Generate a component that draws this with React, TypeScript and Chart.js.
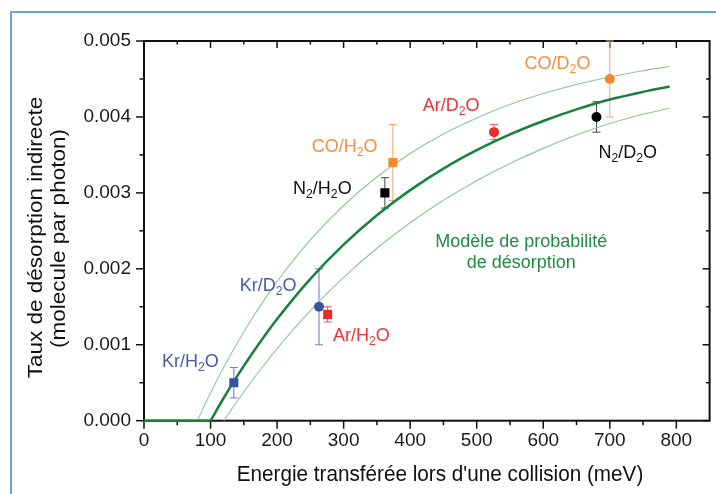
import React, { useEffect, useRef } from 'react';
import { Chart, registerables } from 'chart.js';

Chart.register(...registerables);

const FONT = '"Liberation Sans", Arial, sans-serif';

// Axis ticks
const xTickValues = [0, 100, 200, 300, 400, 500, 600, 700, 800];
const xMinorValues = [50, 150, 250, 350, 450, 550, 650, 750];
const yTickValues = [0, 0.001, 0.002, 0.003, 0.004, 0.005];
const yMinorValues = [0.0005, 0.0015, 0.0025, 0.0035, 0.0045];

// Measurements
const sampleNames = ['Kr/H₂O', 'Kr/D₂O', 'Ar/H₂O', 'N₂/H₂O', 'CO/H₂O', 'Ar/D₂O', 'N₂/D₂O', 'CO/D₂O'];
const sampleEnergy = [135, 263, 276, 362, 374, 526, 680, 700];
const sampleRate = [0.0005, 0.0015, 0.0014, 0.003, 0.0034, 0.0038, 0.004, 0.0045];
const sampleErrLow = [0.0003, 0.001, 0.0013, 0.0028, 0.0029, 0.0037, 0.0038, 0.004];
const sampleErrHigh = [0.0007, 0.002, 0.0015, 0.0032, 0.0039, 0.0039, 0.0042, 0.005];

// Label anchors (data space, left / baseline)
const labelEnergy = [27, 144, 284, 224, 252, 419, 683, 572];
const labelRate = [0.000711, 0.001713, 0.00105, 0.002987, 0.003544, 0.00408, 0.003457, 0.004634];

// Model curves
const modelFlatE = [0, 100];
const modelFlatRate = [0, 0];
const modelE = [100, 120, 140, 160, 180, 200, 250, 300, 350, 400, 450, 500, 550, 600, 650, 700, 750, 790];
const modelRate = [0, 0.000302, 0.000586, 0.000853, 0.001102, 0.001338, 0.001867, 0.002318, 0.002705, 0.003036, 0.00332, 0.003562, 0.00377, 0.003947, 0.004099, 0.004229, 0.00433, 0.0044];
const upperE = [80, 100, 120, 140, 160, 180, 200, 250, 300, 350, 400, 450, 500, 550, 600, 650, 700, 750, 790];
const upperRate = [0, 0.000366, 0.000706, 0.00102, 0.001312, 0.001581, 0.001832, 0.00238, 0.002834, 0.003209, 0.003519, 0.003775, 0.003987, 0.004163, 0.004308, 0.004428, 0.004527, 0.004609, 0.004664];
const lowerE = [120, 140, 160, 180, 200, 250, 300, 350, 400, 450, 500, 550, 600, 650, 700, 750, 790];
const lowerRate = [0, 0.000256, 0.0005, 0.00073, 0.00095, 0.001449, 0.001887, 0.002271, 0.002607, 0.002902, 0.003161, 0.003387, 0.003586, 0.003761, 0.003913, 0.004035, 0.004115];

const modelLabelLines = ['Modèle de probabilité', 'de désorption'];
const modelLabelEnergy = [567, 567];
const modelLabelRate = [0.002293, 0.002008];

const xTitle = "Energie transférée lors d'une collision (meV)";
const yTitleLines = ['Taux de désorption indirecte', '(molecule par photon)'];

// Styles
const BLUE = '#3A53A4';
const RED = '#EE2A2A';
const BLACK = '#000000';
const ORANGE = '#F28A2E';
const sampleColors = [BLUE, BLUE, RED, BLACK, ORANGE, RED, BLACK, ORANGE];
const sampleTextColors = ['#4A5BAA', '#4A5BAA', '#EE3333', '#111111', '#F58F40', '#EE3333', '#111111', '#F58F40'];
const sampleErrColors = ['#6E7BBE', '#6E7BBE', '#E85555', '#444444', '#F5A468', '#E85555', '#444444', '#F5A468'];
const sampleShapes = ['rect', 'circle', 'rect', 'rect', 'rect', 'circle', 'circle', 'circle'];

function drawChem(ctx: CanvasRenderingContext2D, text: string, x: number, y: number, size: number, color: string, align: 'left' | 'center' = 'left') {
  const main = `${size}px ${FONT}`;
  const subSize = size * 0.68;
  const sub = `${subSize}px ${FONT}`;
  const parts = text.split('₂');
  ctx.font = sub;
  const subW = ctx.measureText('2').width;
  ctx.font = main;
  let total = 0;
  parts.forEach((p) => (total += ctx.measureText(p).width));
  total += (parts.length - 1) * subW;
  let cx = align === 'center' ? x - total / 2 : x;
  ctx.fillStyle = color;
  ctx.textAlign = 'left';
  ctx.textBaseline = 'alphabetic';
  parts.forEach((p, i) => {
    ctx.font = main;
    ctx.fillText(p, cx, y);
    cx += ctx.measureText(p).width;
    if (i < parts.length - 1) {
      ctx.font = sub;
      ctx.fillText('2', cx, y + size * 0.22);
      cx += subW;
    }
  });
}

const decorPlugin = {
  id: 'decor',
  beforeDatasetsDraw(chart: any) {
    const { ctx, chartArea: a, scales } = chart;
    const xs = scales.x;
    const ys = scales.y;
    ctx.save();
    ctx.strokeStyle = '#111';
    ctx.lineWidth = 1.5;
    const seg = (x1: number, y1: number, x2: number, y2: number) => {
      ctx.beginPath();
      ctx.moveTo(x1, y1);
      ctx.lineTo(x2, y2);
      ctx.stroke();
    };
    xTickValues.forEach((v) => {
      const p = xs.getPixelForValue(v);
      seg(p, a.bottom, p, a.bottom + 8);
      seg(p, a.top, p, a.top + 7);
    });
    xMinorValues.forEach((v) => {
      const p = xs.getPixelForValue(v);
      seg(p, a.bottom, p, a.bottom + 4.5);
      seg(p, a.top, p, a.top + 3.5);
    });
    yTickValues.forEach((v) => {
      const p = ys.getPixelForValue(v);
      seg(a.left - 8, p, a.left, p);
      seg(a.right - 7, p, a.right, p);
    });
    yMinorValues.forEach((v) => {
      const p = ys.getPixelForValue(v);
      seg(a.left - 4.5, p, a.left, p);
      seg(a.right - 3.5, p, a.right, p);
    });
    ctx.lineWidth = 2;
    ctx.strokeRect(a.left, a.top, a.right - a.left, a.bottom - a.top);

    // error bars
    ctx.lineWidth = 1;
    sampleEnergy.forEach((e, i) => {
      const px = xs.getPixelForValue(e);
      const lo = ys.getPixelForValue(sampleErrLow[i]);
      const hi = ys.getPixelForValue(sampleErrHigh[i]);
      ctx.strokeStyle = sampleErrColors[i];
      seg(px, lo, px, hi);
      seg(px - 4, lo, px + 4, lo);
      seg(px - 4, hi, px + 4, hi);
    });
    ctx.restore();
  },
  afterDraw(chart: any) {
    const { ctx, scales } = chart;
    const xs = scales.x;
    const ys = scales.y;
    ctx.save();
    sampleNames.forEach((name, i) => {
      drawChem(ctx, name, xs.getPixelForValue(labelEnergy[i]), ys.getPixelForValue(labelRate[i]), 18, sampleTextColors[i]);
    });
    modelLabelLines.forEach((t, i) => {
      drawChem(ctx, t, xs.getPixelForValue(modelLabelEnergy[i]), ys.getPixelForValue(modelLabelRate[i]), 18, '#1F8C43', 'center');
    });

    // axis titles (slightly condensed like the source picture)
    ctx.fillStyle = '#111';
    ctx.textBaseline = 'alphabetic';
    ctx.textAlign = 'center';
    ctx.font = `22.5px ${FONT}`;
    ctx.save();
    ctx.translate(440, 481);
    ctx.scale(0.92, 1);
    ctx.fillText(xTitle, 0, 0);
    ctx.restore();

    const yBase = [41.7, 64.5];
    const yCenter = [237.5, 238.5];
    yTitleLines.forEach((t, i) => {
      ctx.save();
      ctx.translate(yBase[i], yCenter[i]);
      ctx.rotate(-Math.PI / 2);
      ctx.scale(1, 0.92);
      ctx.fillText(t, 0, 0);
      ctx.restore();
    });
    ctx.restore();
  },
};

const toXY = (xs: number[], ys: number[]) => xs.map((x, i) => ({ x, y: ys[i] }));

export default function App() {
  const ref = useRef<HTMLCanvasElement>(null);
  useEffect(() => {
    const canvas = ref.current;
    if (!canvas) return;
    const chart = new Chart(canvas, {
      type: 'scatter',
      data: {
        datasets: [
          {
            label: 'Mesures',
            data: toXY(sampleEnergy, sampleRate),
            pointStyle: sampleShapes as any,
            pointRadius: sampleShapes.map((s) => (s === 'rect' ? 6.4 : 5)),
            pointBackgroundColor: sampleColors,
            pointBorderColor: sampleColors,
            pointBorderWidth: 0,
            showLine: false,
            order: 0,
          } as any,
          {
            label: 'Modèle',
            data: toXY(modelE, modelRate),
            showLine: true,
            pointRadius: 0,
            borderColor: '#17823C',
            borderWidth: 2.5,
            cubicInterpolationMode: 'monotone',
            clip: false,
            order: 1,
          },
          {
            label: 'Modèle (seuil)',
            data: toXY(modelFlatE, modelFlatRate),
            showLine: true,
            pointRadius: 0,
            borderColor: '#17823C',
            borderWidth: 2.5,
            clip: false,
            order: 2,
          },
          {
            label: 'Borne haute',
            data: toXY(upperE, upperRate),
            showLine: true,
            pointRadius: 0,
            borderColor: '#8DC796',
            borderWidth: 1.1,
            cubicInterpolationMode: 'monotone',
            clip: false,
            order: 3,
          },
          {
            label: 'Borne basse',
            data: toXY(lowerE, lowerRate),
            showLine: true,
            pointRadius: 0,
            borderColor: '#8DC796',
            borderWidth: 1.1,
            cubicInterpolationMode: 'monotone',
            clip: false,
            order: 4,
          },
        ],
      },
      options: {
        animation: false,
        responsive: false,
        devicePixelRatio: 1,
        layout: { padding: { left: 0, top: 41, right: 5.5, bottom: 0 } },
        plugins: { legend: { display: false }, tooltip: { enabled: false } },
        scales: {
          x: {
            type: 'linear',
            min: 0,
            max: 850,
            grid: { display: false, drawTicks: false },
            border: { display: false },
            afterBuildTicks: (s: any) => {
              s.ticks = xTickValues.map((v) => ({ value: v }));
            },
            afterFit: (s: any) => {
              s.height = 73.3;
            },
            ticks: {
              autoSkip: false,
              maxRotation: 0,
              includeBounds: false,
              padding: 8.5,
              color: '#1a1a1a',
              font: { family: FONT, size: 19 },
              callback: (v: any) => String(v),
            },
          },
          y: {
            type: 'linear',
            min: 0,
            max: 0.005,
            grid: { display: false, drawTicks: false },
            border: { display: false },
            afterBuildTicks: (s: any) => {
              s.ticks = yTickValues.map((v) => ({ value: v }));
            },
            afterFit: (s: any) => {
              s.width = 144;
            },
            ticks: {
              autoSkip: false,
              padding: 13,
              color: '#1a1a1a',
              font: { family: FONT, size: 19 },
              callback: (v: any) => Number(v).toFixed(3),
            },
          },
        },
      },
      plugins: [decorPlugin],
    });
    return () => chart.destroy();
  }, []);

  return (
    <div style={{ position: 'absolute', left: 0, top: 0, width: 716, height: 494, background: '#ffffff', overflow: 'hidden' }}>
      <div
        style={{
          position: 'absolute',
          left: 10,
          top: 11,
          width: 706,
          height: 483,
          borderLeft: '2px solid #6FA3DA',
          borderTop: '2px solid #6FA3DA',
          boxSizing: 'border-box',
        }}
      />
      <canvas ref={ref} width={716} height={494} style={{ position: 'absolute', left: 0, top: 0 }} />
    </div>
  );
}
